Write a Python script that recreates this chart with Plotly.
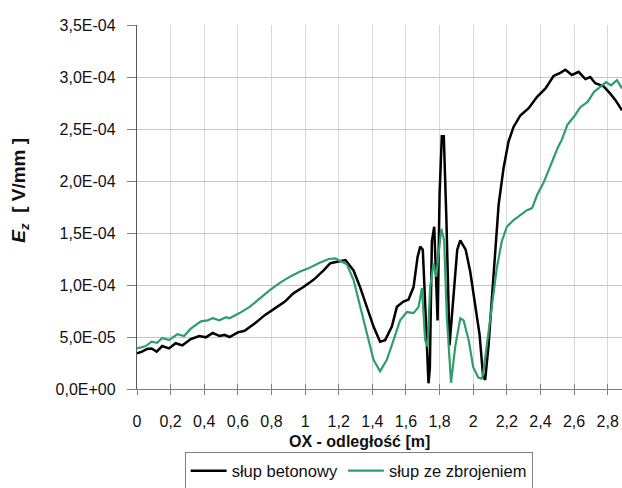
import plotly.graph_objects as go

# ---- data (Ez values in units of 1e-5 V/mm) ----
SCALE = 1e-5

x_beton = [0.00, 0.03, 0.06, 0.087, 0.117, 0.15, 0.19, 0.23, 0.27, 0.32, 0.37, 0.41, 0.45, 0.49,
           0.52, 0.55, 0.60, 0.64, 0.70, 0.76, 0.82, 0.88, 0.93, 0.99, 1.05, 1.11, 1.15, 1.20,
           1.24, 1.288, 1.327, 1.367, 1.407, 1.446, 1.476, 1.516, 1.546, 1.585, 1.615, 1.645,
           1.669, 1.685, 1.70, 1.708, 1.72, 1.734, 1.742, 1.754, 1.768, 1.778, 1.788, 1.80,
           1.813, 1.825, 1.84, 1.859, 1.885, 1.905, 1.923, 1.955, 1.982, 2.012, 2.038, 2.058,
           2.071, 2.091, 2.121, 2.151, 2.18, 2.21, 2.24, 2.28, 2.33, 2.38, 2.43, 2.478, 2.518,
           2.548, 2.587, 2.627, 2.667, 2.696, 2.726, 2.776, 2.815, 2.845, 2.885]
ez_beton = [3.43, 3.6, 3.85, 3.9, 3.6, 4.13, 3.9, 4.4, 4.2, 4.8, 5.1, 4.97, 5.4, 5.1,
            5.2, 5.0, 5.45, 5.6, 6.3, 7.1, 7.75, 8.4, 9.2, 9.8, 10.5, 11.4, 12.1, 12.3,
            12.4, 11.4, 9.8, 7.9, 6.0, 4.55, 4.7, 6.0, 7.9, 8.4, 8.6, 9.8,
            12.7, 13.7, 13.4, 10.5, 5.4, 0.55, 2.0, 14.2, 15.6, 11.0, 6.6, 18.8,
            24.3, 24.3, 16.6, 4.2, 9.8, 13.4, 14.3, 13.4, 11.3, 7.76, 5.2, 1.35,
            0.87, 4.2, 11.3, 17.7, 21.2, 23.8, 25.2, 26.3, 27.0, 28.1, 28.9, 30.1, 30.4,
            30.7, 30.2, 30.5, 29.8, 30.0, 29.4, 29.1, 28.4, 27.8, 26.8]

x_zbroj = [0.00, 0.05, 0.087, 0.12, 0.15, 0.19, 0.24, 0.28, 0.32, 0.38, 0.42, 0.45, 0.49, 0.53,
           0.55, 0.61, 0.67, 0.73, 0.79, 0.85, 0.91, 0.97, 1.02, 1.08, 1.14, 1.18, 1.22, 1.248,
           1.288, 1.327, 1.367, 1.407, 1.446, 1.486, 1.526, 1.565, 1.605, 1.645, 1.675, 1.695,
           1.714, 1.728, 1.744, 1.764, 1.78, 1.795, 1.81, 1.827, 1.843, 1.868, 1.893, 1.923,
           1.943, 1.973, 2.0, 2.03, 2.05, 2.058, 2.08, 2.11, 2.14, 2.17, 2.2, 2.24, 2.28, 2.32,
           2.35, 2.38, 2.42, 2.46, 2.5, 2.528, 2.56, 2.6, 2.637, 2.68, 2.72, 2.76, 2.79, 2.82,
           2.855, 2.885]
ez_zbroj = [3.9, 4.1, 4.55, 4.45, 4.9, 4.7, 5.26, 5.1, 5.8, 6.5, 6.6, 6.8, 6.6, 6.9,
            6.8, 7.3, 7.9, 8.7, 9.5, 10.2, 10.8, 11.3, 11.6, 12.1, 12.5, 12.55, 12.2, 12.0,
            10.5, 7.9, 5.4, 2.8, 1.7, 2.8, 4.7, 6.6, 7.4, 7.3, 7.9, 9.7,
            4.7, 4.07, 9.8, 12.1, 10.8, 13.5, 15.4, 14.3, 6.95, 0.6, 4.07, 6.8,
            6.6, 4.7, 2.1, 1.1, 1.0, 1.35, 4.2, 7.76, 11.6, 14.2, 15.6, 16.25, 16.7, 17.2,
            17.4, 18.65, 19.9, 21.5, 23.1, 24.0, 25.4, 26.2, 27.1, 27.6, 28.6, 29.1, 29.5, 29.2,
            29.7, 28.9]

series_names = ["słup betonowy", "słup ze zbrojeniem"]
series_colors = ["#000000", "#2f9e6c"]

y_tickvals = [0, 5e-5, 1e-4, 1.5e-4, 2e-4, 2.5e-4, 3e-4, 3.5e-4]
y_ticktext = ["0,0E+00", "5,0E-05", "1,0E-04", "1,5E-04", "2,0E-04", "2,5E-04", "3,0E-04", "3,5E-04"]
x_tickvals = [0, 0.2, 0.4, 0.6, 0.8, 1.0, 1.2, 1.4, 1.6, 1.8, 2.0, 2.2, 2.4, 2.6, 2.8]
x_ticktext = ["0", "0,2", "0,4", "0,6", "0,8", "1", "1,2", "1,4", "1,6", "1,8", "2", "2,2", "2,4", "2,6", "2,8"]

X_MAX = 2.885
FONT = "Liberation Sans, Arial, sans-serif"

fig = go.Figure()
fig.add_trace(go.Scatter(x=x_beton, y=[v * SCALE for v in ez_beton], mode="lines",
                         name=series_names[0], line=dict(color=series_colors[0], width=2.5)))
fig.add_trace(go.Scatter(x=x_zbroj, y=[v * SCALE for v in ez_zbroj], mode="lines",
                         name=series_names[1], line=dict(color=series_colors[1], width=2.2)))
# helper trace for the overlaid (inside) tick axis
fig.add_trace(go.Scatter(x=[None], y=[None], xaxis="x2", showlegend=False, hoverinfo="skip"))

fig.update_layout(
    width=622, height=488,
    margin=dict(l=137, r=0, t=25, b=99, autoexpand=False),
    paper_bgcolor="white", plot_bgcolor="white",
    font=dict(family=FONT, size=16, color="#111111"),
    xaxis=dict(range=[0, X_MAX], tickmode="array", tickvals=x_tickvals, ticktext=x_ticktext,
               showgrid=True, gridcolor="#d9d9d9", gridwidth=1, zeroline=False,
               showline=True, linecolor="#7f7f7f", linewidth=1.3, automargin=False,
               ticks="outside", ticklen=5, tickcolor="#7f7f7f", tickwidth=1,
               ticklabelstandoff=13, ticklabeloverflow="allow",
               tickfont=dict(size=16, color="#111111")),
    xaxis2=dict(range=[0, X_MAX], overlaying="x", anchor="y", side="bottom",
                tickmode="array", tickvals=x_tickvals, ticks="inside", ticklen=5,
                tickcolor="#7f7f7f", showticklabels=False, showgrid=False, zeroline=False,
                showline=False, automargin=False),
    yaxis=dict(range=[0, 3.5e-4], tickmode="array", tickvals=y_tickvals, ticktext=y_ticktext,
               showgrid=True, gridcolor="#c6c6c6", gridwidth=1, zeroline=False,
               showline=True, linecolor="#595959", linewidth=1.3, automargin=False,
               ticks="outside", ticklen=9, tickcolor="#7f7f7f", tickwidth=1,
               ticklabelstandoff=8, tickfont=dict(size=16, color="#111111")),
    legend=dict(orientation="h", x=0.457, xanchor="center", y=-0.276, yanchor="bottom",
                bordercolor="#7f7f7f", borderwidth=1, bgcolor="white",
                font=dict(size=16.5, color="#111111"), itemwidth=36,
                tracegroupgap=0),
    annotations=[
        dict(text="<b>OX - odległość [m]</b>", xref="paper", yref="paper",
             x=0.458, y=-0.143, xanchor="center", yanchor="middle", showarrow=False,
             font=dict(size=16, color="#111111")),
        dict(text="<b><i>E<sub>z</sub></i>  [ V/mm ]</b>", xref="paper", yref="paper",
             x=-0.243, y=0.545, xanchor="center", yanchor="middle", showarrow=False,
             textangle=-90, font=dict(size=19, color="#111111")),
    ],
)

fig.write_html("out.html", config={"displayModeBar": False},
               post_script="document.body.style.margin='0';document.body.style.overflow='hidden';")
